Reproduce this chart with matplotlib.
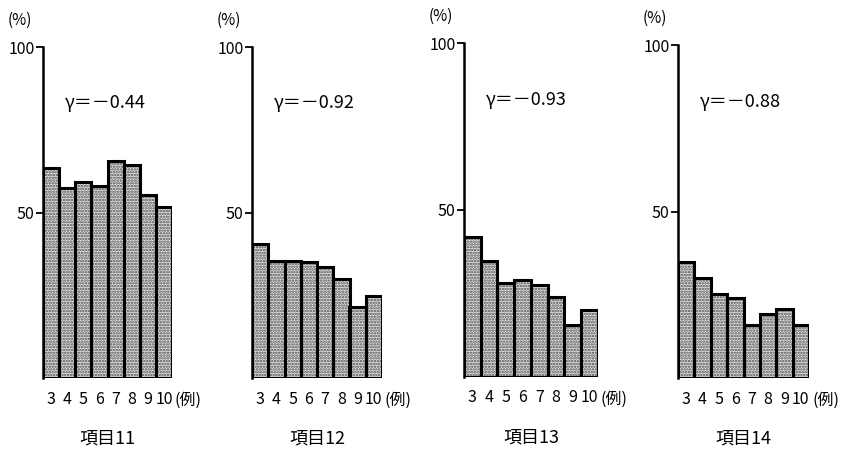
import matplotlib
matplotlib.use("Agg")
import matplotlib.pyplot as plt

plt.rcParams['font.family'] = ['Noto Sans CJK JP', 'DejaVu Sans']
plt.rcParams['hatch.linewidth'] = 1.2

categories = ['3', '4', '5', '6', '7', '8', '9', '10']
item_titles = ['項目11', '項目12', '項目13', '項目14']
gamma_labels = ['γ＝－0.44', 'γ＝－0.92', 'γ＝－0.93', 'γ＝－0.88']

item11 = [63.5, 57.4, 59.1, 58.1, 65.7, 64.2, 55.4, 51.8]
item12 = [40.4, 35.3, 35.4, 34.9, 33.6, 29.8, 21.5, 24.7]
item13 = [42.0, 34.8, 28.1, 29.0, 27.5, 24.0, 15.5, 20.1]
item14 = [34.7, 30.1, 25.3, 24.1, 15.8, 19.2, 20.8, 15.8]
series = [item11, item12, item13, item14]

W, H = 842, 458
fig = plt.figure(figsize=(W / 100, H / 100), dpi=100)

# panel frames in pixels: left, right, y(100%), y(0%)
frames = [(43, 172, 47, 378), (252, 382, 47, 378), (464, 598, 43, 377), (678, 809, 45, 378)]

for vals, title, gtxt, (l, r, t, b) in zip(series, item_titles, gamma_labels, frames):
    ax = fig.add_axes([l / W, (H - b) / H, (r - l) / W, (b - t) / H])
    x = list(range(len(categories)))
    ax.bar(x, vals, width=1.0, color='#e2e2e2', hatch='......', edgecolor='#4a4a4a',
           linewidth=0, zorder=2)
    ax.bar(x, vals, width=1.0, fill=False, edgecolor='black', linewidth=2.2, zorder=3)
    ax.set_xlim(-0.5, len(categories) - 0.5)
    ax.set_ylim(0, 100)
    for s in ['top', 'right', 'bottom']:
        ax.spines[s].set_visible(False)
    ax.spines['left'].set_linewidth(1.8)
    ax.set_yticks([50, 100])
    ax.set_yticklabels(['50', '100'], fontsize=11.5)
    ax.tick_params(axis='y', direction='out', length=5, width=1.3, pad=1)
    ax.set_xticks(x)
    ax.set_xticklabels(categories, fontsize=11.5)
    ax.tick_params(axis='x', length=0, pad=9)
    hgt = b - t
    ax.text(-35 / (r - l), 1 + 27 / hgt, '(%)', transform=ax.transAxes, fontsize=11,
            ha='left', va='center')
    ax.text(22 / (r - l), 0.83, gtxt, transform=ax.transAxes, fontsize=13,
            ha='left', va='center')
    ax.text(1 + 3 / (r - l), -22 / hgt, '(例)', transform=ax.transAxes, fontsize=11.5,
            ha='left', va='center')
    ax.text(0.5, -61 / hgt, title, transform=ax.transAxes, fontsize=13,
            ha='center', va='center')
    ax.patch.set_visible(False)

fig.savefig('out.png', dpi=100)
